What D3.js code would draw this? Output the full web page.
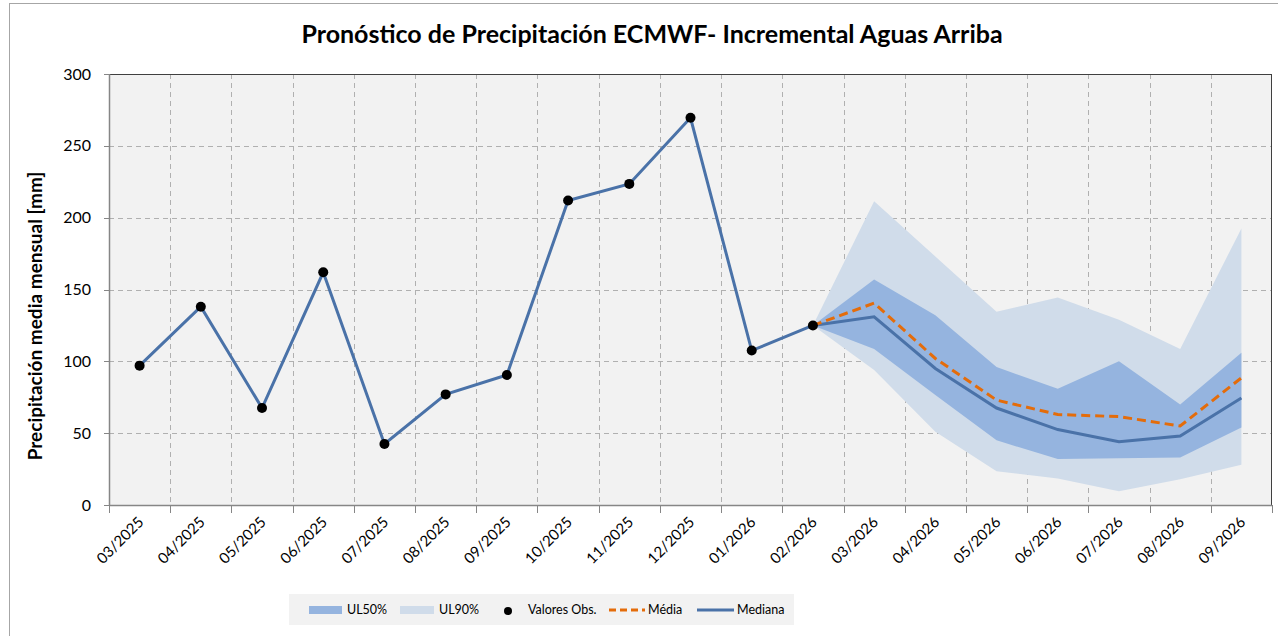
<!DOCTYPE html>
<html>
<head>
<meta charset="utf-8">
<script src="https://cdn.jsdelivr.net/npm/d3@7"></script>
<style>
  body { margin: 0; background: #fff; }
  svg { display: block; font-family: Lato, "Open Sans", sans-serif; }
</style>
</head>
<body>
<div id="chart"></div>
<script>
// Months on the x axis
var months = ["03/2025", "04/2025", "05/2025", "06/2025", "07/2025", "08/2025", "09/2025",
  "10/2025", "11/2025", "12/2025", "01/2026", "02/2026", "03/2026", "04/2026",
  "05/2026", "06/2026", "07/2026", "08/2026", "09/2026"];

// Observed values (03/2025 - 02/2026)
var observed = [97, 138, 67.5, 162, 42.5, 77, 90.5, 212, 223.5, 269.5, 107.5, 125];

// Forecast series (02/2026 - 09/2026)
var fcMonths = ["02/2026", "03/2026", "04/2026", "05/2026", "06/2026", "07/2026", "08/2026", "09/2026"];
var median = [125, 131, 95, 67.5, 52.5, 44, 48, 74.5];
var mean = [125, 140.5, 102, 73, 63, 61.5, 55, 88.5];
var ul50Hi = [125, 157, 132, 96, 81, 100, 70, 106];
var ul50Lo = [125, 108.5, 76.5, 45, 32, 32.5, 33, 54];
var ul90Hi = [125, 211.5, 173, 134.5, 144.5, 129, 108.5, 192.5];
var ul90Lo = [125, 94, 51, 23.5, 18.5, 9.5, 18, 28];

var yTicks = [0, 50, 100, 150, 200, 250, 300];

var width = 1278, height = 636;
var pLeft = 109, pRight = 1272, pTop = 74, pBottom = 505;

var svg = d3.select("#chart").append("svg")
  .attr("width", width)
  .attr("height", height);

// Outer frame
svg.append("rect")
  .attr("x", 9.5).attr("y", 3.5)
  .attr("width", 1290).attr("height", 660)
  .attr("fill", "none")
  .attr("stroke", "#a6a6a6");

var x = d3.scaleBand().domain(months).range([pLeft, pRight]).padding(0);
var y = d3.scaleLinear().domain([0, 300]).range([pBottom, pTop]);
var cx = d => x(d) + x.bandwidth() / 2;

// Plot background
svg.append("rect")
  .attr("x", pLeft).attr("y", pTop)
  .attr("width", pRight - pLeft).attr("height", pBottom - pTop)
  .attr("fill", "#f2f2f2");

// Grid lines
var grid = svg.append("g").attr("stroke", "#b0b0b0").attr("stroke-dasharray", "5,4");
grid.selectAll("line.h")
  .data(yTicks.filter(d => d > 0 && d < 300))
  .enter().append("line")
  .attr("x1", pLeft).attr("x2", pRight)
  .attr("y1", d => Math.round(y(d)) + 0.5)
  .attr("y2", d => Math.round(y(d)) + 0.5);
grid.selectAll("line.v")
  .data(months.slice(1))
  .enter().append("line")
  .attr("x1", d => Math.round(x(d)) + 0.5)
  .attr("x2", d => Math.round(x(d)) + 0.5)
  .attr("y1", pTop).attr("y2", pBottom);

// Uncertainty bands
var fc = fcMonths.map((m, i) => ({
  m: m, med: median[i], mean: mean[i],
  h50: ul50Hi[i], l50: ul50Lo[i], h90: ul90Hi[i], l90: ul90Lo[i]
}));

svg.append("path")
  .datum(fc)
  .attr("fill", "#d0dcea")
  .attr("d", d3.area().x(d => cx(d.m)).y0(d => y(d.l90)).y1(d => y(d.h90)));

svg.append("path")
  .datum(fc)
  .attr("fill", "#95b4df")
  .attr("d", d3.area().x(d => cx(d.m)).y0(d => y(d.l50)).y1(d => y(d.h50)));

// Plot border (top/right dark, axes grey)
svg.append("line").attr("x1", pLeft).attr("x2", pRight).attr("y1", pTop + 0.5).attr("y2", pTop + 0.5)
  .attr("stroke", "#404040");
svg.append("line").attr("x1", pRight - 0.5).attr("x2", pRight - 0.5).attr("y1", pTop).attr("y2", pBottom)
  .attr("stroke", "#404040");

// Axes
var xAxis = svg.append("g");
xAxis.append("line")
  .attr("x1", pLeft).attr("x2", pRight)
  .attr("y1", pBottom + 0.5).attr("y2", pBottom + 0.5)
  .attr("stroke", "#868686").attr("stroke-width", 1.5);
xAxis.selectAll("line.tick")
  .data(months.concat(["end"]))
  .enter().append("line")
  .attr("x1", (d, i) => Math.round(pLeft + i * x.bandwidth()) + 0.5)
  .attr("x2", (d, i) => Math.round(pLeft + i * x.bandwidth()) + 0.5)
  .attr("y1", pBottom).attr("y2", pBottom + 8)
  .attr("stroke", "#868686");
xAxis.selectAll("text")
  .data(months)
  .enter().append("text")
  .attr("transform", d => "translate(" + (cx(d) + 5) + "," + (pBottom + 18) + ") rotate(-45)")
  .attr("text-anchor", "end")
  .attr("font-size", 15)
  .attr("fill", "#000")
  .text(d => d);

var yAxis = svg.append("g");
yAxis.append("line")
  .attr("x1", pLeft + 0.5).attr("x2", pLeft + 0.5)
  .attr("y1", pTop).attr("y2", pBottom)
  .attr("stroke", "#868686").attr("stroke-width", 1.5);
yAxis.selectAll("line.tick")
  .data(yTicks)
  .enter().append("line")
  .attr("x1", pLeft - 5).attr("x2", pLeft)
  .attr("y1", d => Math.round(y(d)) + 0.5)
  .attr("y2", d => Math.round(y(d)) + 0.5)
  .attr("stroke", "#868686");
yAxis.selectAll("text")
  .data(yTicks)
  .enter().append("text")
  .attr("x", 91)
  .attr("y", d => y(d))
  .attr("dy", "0.35em")
  .attr("text-anchor", "end")
  .attr("font-size", 16)
  .text(d => d);

// Observed line + mean/median
var line = d3.line().x(d => cx(d[0])).y(d => y(d[1]));

svg.append("path")
  .datum(observed.map((v, i) => [months[i], v]))
  .attr("fill", "none")
  .attr("stroke", "#4a72a8")
  .attr("stroke-width", 3)
  .attr("d", line);

svg.append("path")
  .datum(fc.map(d => [d.m, d.med]))
  .attr("fill", "none")
  .attr("stroke", "#4a72a8")
  .attr("stroke-width", 3)
  .attr("d", line);

svg.append("path")
  .datum(fc.map(d => [d.m, d.mean]))
  .attr("fill", "none")
  .attr("stroke", "#e46c0a")
  .attr("stroke-width", 3)
  .attr("stroke-dasharray", "9,5")
  .attr("d", line);

svg.selectAll("circle.obs")
  .data(observed)
  .enter().append("circle")
  .attr("cx", (d, i) => cx(months[i]))
  .attr("cy", d => y(d))
  .attr("r", 5)
  .attr("fill", "#000");

// Title
svg.append("text")
  .attr("x", 652).attr("y", 43)
  .attr("text-anchor", "middle")
  .attr("font-size", 25)
  .attr("font-weight", "bold")
  .text("Pronóstico de Precipitación ECMWF- Incremental Aguas Arriba");

// Y axis label
svg.append("text")
  .attr("transform", "translate(42,316) rotate(-90)")
  .attr("text-anchor", "middle")
  .attr("font-size", 19)
  .attr("font-weight", "bold")
  .text("Precipitación media mensual [mm]");

// Legend
var legend = svg.append("g");
legend.append("rect")
  .attr("x", 289).attr("y", 594)
  .attr("width", 505).attr("height", 31)
  .attr("fill", "#f2f2f2");

var ly = 610, lfs = 12.5;
legend.append("rect").attr("x", 309).attr("y", ly - 4).attr("width", 33).attr("height", 8).attr("fill", "#95b4df");
legend.append("text").attr("x", 347).attr("y", ly).attr("dy", "0.35em").attr("font-size", lfs).text("UL50%");
legend.append("rect").attr("x", 400).attr("y", ly - 4).attr("width", 34).attr("height", 8).attr("fill", "#d0dcea");
legend.append("text").attr("x", 439).attr("y", ly).attr("dy", "0.35em").attr("font-size", lfs).text("UL90%");
legend.append("circle").attr("cx", 508).attr("cy", ly + 1).attr("r", 4).attr("fill", "#000");
legend.append("text").attr("x", 528).attr("y", ly).attr("dy", "0.35em").attr("font-size", lfs).text("Valores Obs.");
legend.append("line").attr("x1", 609).attr("x2", 645).attr("y1", ly).attr("y2", ly)
  .attr("stroke", "#e46c0a").attr("stroke-width", 3).attr("stroke-dasharray", "7,4");
legend.append("text").attr("x", 648).attr("y", ly).attr("dy", "0.35em").attr("font-size", lfs).text("Média");
legend.append("line").attr("x1", 697).attr("x2", 734).attr("y1", ly).attr("y2", ly)
  .attr("stroke", "#4a72a8").attr("stroke-width", 3);
legend.append("text").attr("x", 737).attr("y", ly).attr("dy", "0.35em").attr("font-size", lfs).text("Mediana");
</script>
</body>
</html>
